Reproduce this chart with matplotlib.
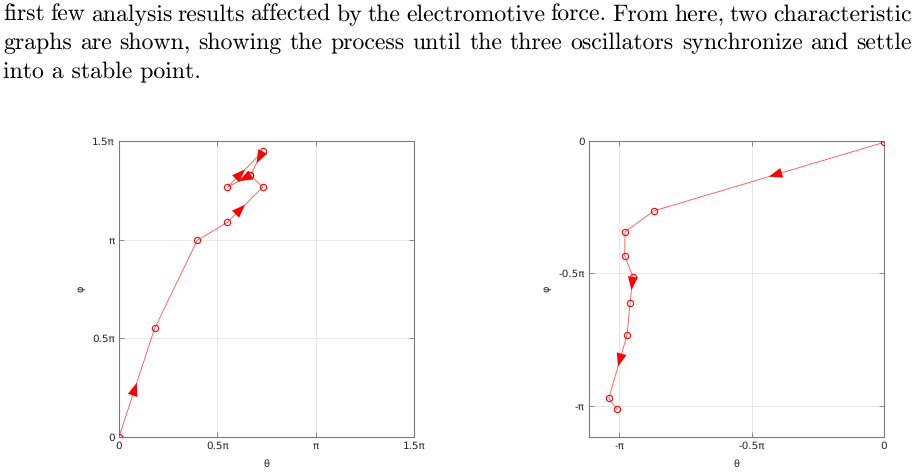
import numpy as np
import matplotlib
matplotlib.use("Agg")
import matplotlib.pyplot as plt

plt.rcParams["text.hinting"] = "no_hinting"

# ---------------- data (in units of pi) ----------------
theta_left = [0.0, 0.181, 0.398, 0.551, 0.731, 0.668, 0.551, 0.731, 0.668]
phi_left = [0.0, 0.550, 0.997, 1.088, 1.266, 1.327, 1.266, 1.447, 1.327]
arrows_left = [0, 3, 5, 6, 7]

theta_right = [0.0, -0.870, -0.979, -0.980, -0.949, -0.960, -0.971, -1.040, -1.009]
phi_right = [-0.005, -0.264, -0.343, -0.433, -0.514, -0.613, -0.732, -0.972, -1.013]
arrows_right = [0, 4, 6]

left_ticks = [0, 0.5, 1.0, 1.5]
left_ticklabels = ["0", "0.5π", "π", "1.5π"]
right_ticks = [-1.0, -0.5, 0.0]
right_ticklabels = ["-π", "-0.5π", "0"]

paragraph = [
    "first few analysis results affected by the electromotive force. From here, two characteristic",
    "graphs are shown, showing the process until the three oscillators synchronize and settle",
    "into a stable point.",
]

W, H = 918, 473
fig = plt.figure(figsize=(W / 100, H / 100), dpi=100)
renderer = fig.canvas.get_renderer()


def tw(s, size):
    t = fig.text(0, 0, s, fontsize=size, family="cmr10")
    w = t.get_window_extent(renderer).width
    t.remove()
    return w


fs = 10 * 198 / tw(paragraph[2], 10)
x0, x1 = 3, 912
baselines = [21, 49, 78]
for i, line in enumerate(paragraph):
    yb = 1 - baselines[i] / H
    if i < 2:
        words = line.split()
        widths = [tw(w, fs) for w in words]
        gap = (x1 - x0 - sum(widths)) / (len(words) - 1)
        x = x0
        for w, wd in zip(words, widths):
            fig.text(x / W, yb, w, fontsize=fs, family="cmr10", va="baseline", ha="left")
            x += wd + gap
    else:
        fig.text(x0 / W, yb, line, fontsize=fs, family="cmr10", va="baseline", ha="left")

spine_col = "#7a7a7a"
lab_col = "#262626"


def style(ax, xlim, ylim, xt, xtl, yt, ytl):
    ax.set_xlim(xlim[0] * np.pi, xlim[1] * np.pi)
    ax.set_ylim(ylim[0] * np.pi, ylim[1] * np.pi)
    ax.set_xticks([v * np.pi for v in xt])
    ax.set_xticklabels(xtl)
    ax.set_yticks([v * np.pi for v in yt])
    ax.set_yticklabels(ytl)
    ax.tick_params(direction="in", length=3.5, width=0.6, color=spine_col,
                   labelsize=7.5, labelcolor=lab_col, top=True, right=True, pad=3)
    for s in ax.spines.values():
        s.set_color(spine_col)
        s.set_linewidth(0.8)
    ax.grid(True, color="#e4e4e4", linewidth=0.6)
    ax.set_axisbelow(True)
    ax.set_xlabel("θ", fontsize=7, color=lab_col, labelpad=6)
    ax.set_ylabel("φ", fontsize=7, color=lab_col, labelpad=5)


def draw(ax, th, ph, arrows):
    x = np.array(th) * np.pi
    y = np.array(ph) * np.pi
    ax.plot(x, y, color="#ff5050", linewidth=0.6, zorder=3)
    ax.plot(x, y, linestyle="none", marker="o", markersize=4.5,
            markerfacecolor="none", markeredgecolor="red", markeredgewidth=0.8, zorder=4)
    for k in arrows:
        xm, ym = (x[k] + x[k + 1]) / 2, (y[k] + y[k + 1]) / 2
        xs, ys = x[k] + 0.2 * (x[k + 1] - x[k]), y[k] + 0.2 * (y[k + 1] - y[k])
        ax.annotate("", xy=(xm, ym), xytext=(xs, ys),
                    arrowprops=dict(arrowstyle="-|>,head_length=0.8,head_width=0.3",
                                    mutation_scale=12, color="red", lw=0.0,
                                    shrinkA=0, shrinkB=0), zorder=5)


axL = fig.add_axes([119 / W, 1 - 437 / H, 295 / W, 296 / H])
style(axL, (0, 1.5), (0, 1.5), left_ticks, left_ticklabels, left_ticks, left_ticklabels)
draw(axL, theta_left, phi_left, arrows_left)

axR = fig.add_axes([589 / W, 1 - 437 / H, 295 / W, 296 / H])
style(axR, (-1.115, 0), (-1.118, 0), right_ticks, right_ticklabels, right_ticks, right_ticklabels)
draw(axR, theta_right, phi_right, arrows_right)

fig.savefig("out.png", dpi=100)
